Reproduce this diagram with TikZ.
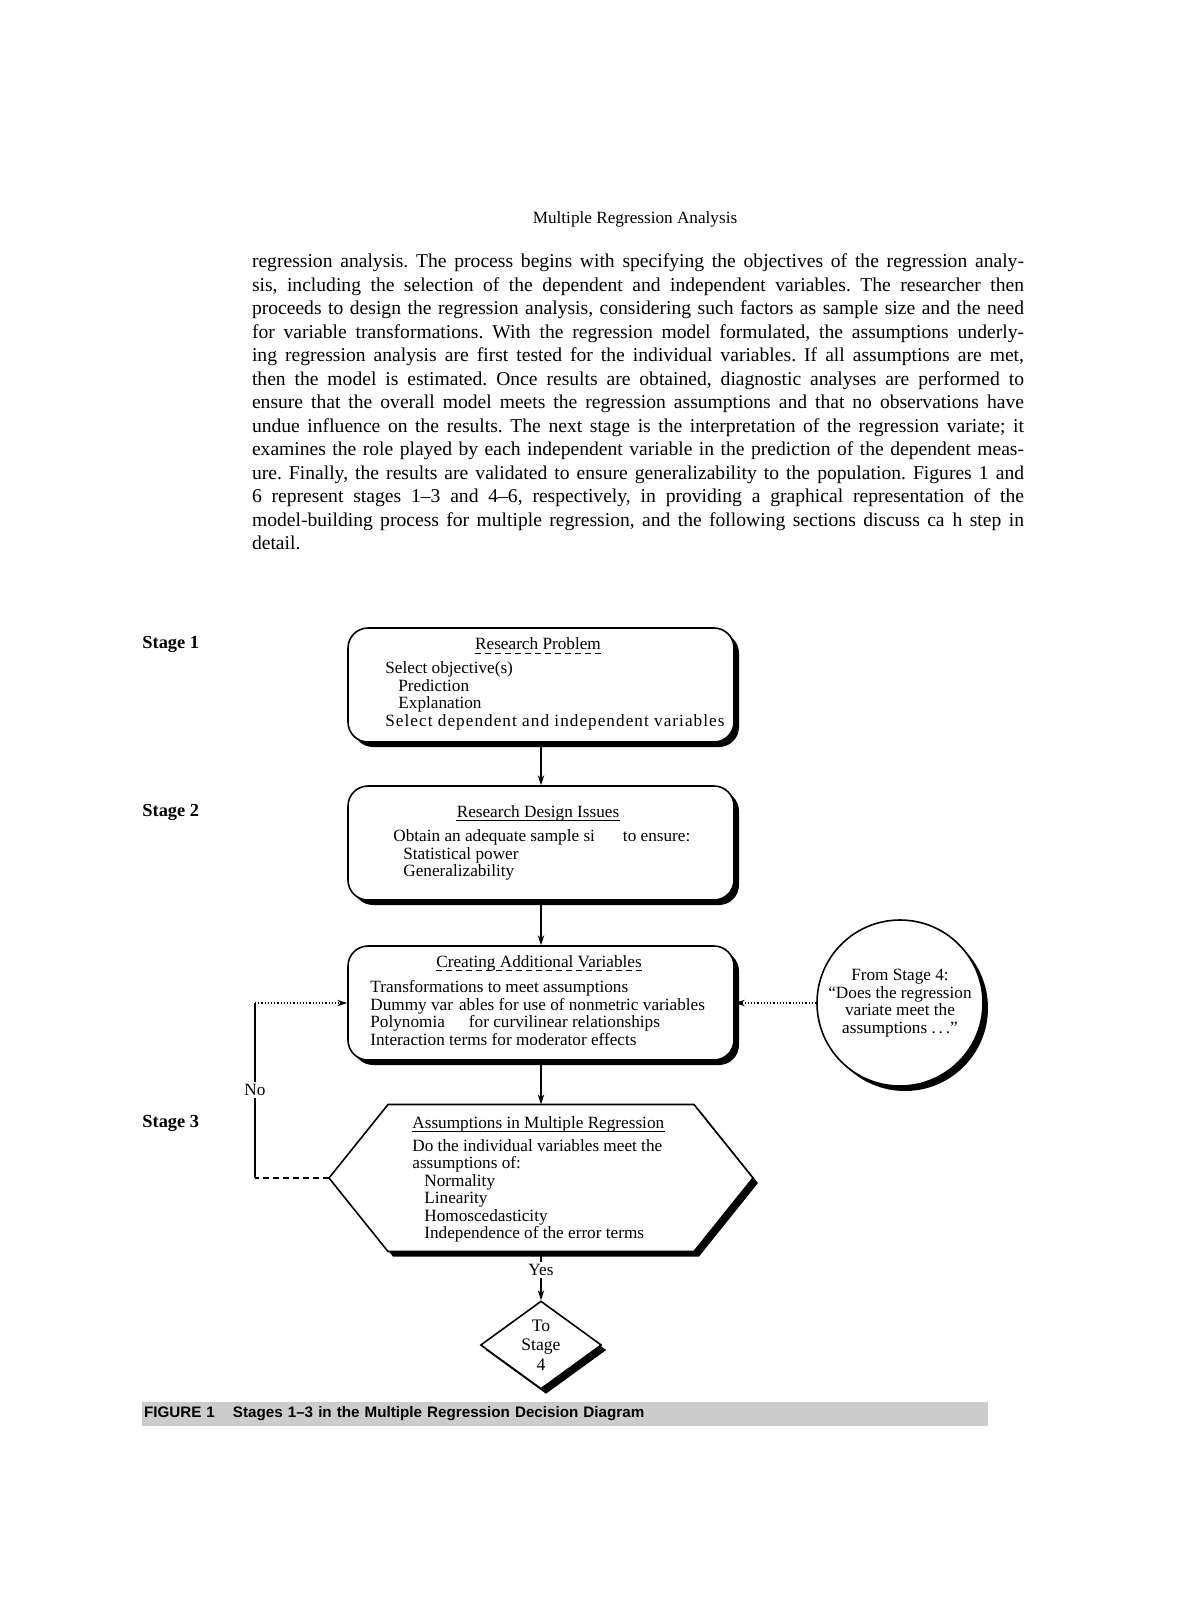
\documentclass[tikz,border=0pt]{standalone}
\usepackage{fontspec}
\setmainfont{Liberation Serif}
\setsansfont{Liberation Sans}
\usetikzlibrary{arrows.meta,shapes.geometric,shadows}

\tikzset{
  shade box/.style={drop shadow={shadow xshift=2.5pt,shadow yshift=-2.5pt,fill=black,opacity=1}},
  stagebox/.style={draw,thick,fill=white,rounded corners=10pt,minimum width=193pt,minimum height=57pt,shade box},
  hexframe/.style={minimum width=212pt,minimum height=73.5pt,inner sep=0pt,outer sep=0pt},
  boxfont/.style={font=\fontsize{8.6}{8.75}\selectfont},
  boxtext/.style={boxfont,align=left,inner sep=0pt,anchor=west},
  boxtitle/.style={boxfont,inner sep=0pt},
  stagelabel/.style={font=\bfseries\fontsize{9.2}{11}\selectfont,anchor=west,inner sep=0pt},
  para/.style={text width=386pt,align=justify,inner sep=0pt,font=\fontsize{9.8}{11.75}\selectfont\frenchspacing},
  capbar/.style={fill=black!20,minimum height=12pt,text width=421pt,inner xsep=1pt,inner ysep=0pt,
    align=left,font=\sffamily\bfseries\fontsize{7.6}{9}\selectfont},
  dashuline/.style={thin,densely dashed},
  uline/.style={thin},
  link/.style={semithick},
}

\begin{document}
\begin{tikzpicture}[x=0.5pt,y=-0.5pt,>={Stealth[length=5pt,width=3.2pt]}]
\useasboundingbox (0,0) rectangle (1200,1624);

% running head and text
\node[font=\fontsize{8.6}{10}\selectfont] (head) at (635,219) {Multiple Regression Analysis};
\node[para] (body) at (638,402) {regression analysis. The process begins with specifying the objectives of the regression analy-\linebreak
sis, including the selection of the dependent and independent variables. The researcher then\linebreak
proceeds to design the regression analysis, considering such factors as sample size and the need\linebreak
for variable transformations. With the regression model formulated, the assumptions underly-\linebreak
ing regression analysis are first tested for the individual variables. If all assumptions are met,\linebreak
then the model is estimated. Once results are obtained, diagnostic analyses are performed to\linebreak
ensure that the overall model meets the regression assumptions and that no observations have\linebreak
undue influence on the results. The next stage is the interpretation of the regression variate; it\linebreak
examines the role played by each independent variable in the prediction of the dependent meas-\linebreak
ure. Finally, the results are validated to ensure generalizability to the population. Figures 1 and\linebreak
6 represent stages 1--3 and 4--6, respectively, in providing a graphical representation of the\linebreak
model-building process for multiple regression, and the following sections discuss ca\hspace{4pt}h step in\linebreak
detail.};

% stage labels
\node[stagelabel] (stage1) at (142,644) {Stage 1};
\node[stagelabel] (stage2) at (142,812) {Stage 2};
\node[stagelabel] (stage3) at (142,1123) {Stage 3};

% Stage 1
\node[stagebox] (problem) at (541,685) {};
\node[boxtitle] (problem-title) at (538,644) {Research Problem};
\node[boxtext] (problem-text) at (385,696) {Select objective(s)\\\hspace*{6.5pt}Prediction\\\hspace*{6.5pt}Explanation\\{\addfontfeature{LetterSpace=6}Select dependent and independent variables}};

% Stage 2
\node[stagebox] (design) at (541,843) {};
\node[boxtitle] (design-title) at (538,813) {Research Design Issues};
\node[boxtext] (design-text) at (393,855) {Obtain an adequate sample si\hspace{14pt}to ensure:\\\hspace*{5pt}Statistical power\\\hspace*{5pt}Generalizability};

% additional variables
\node[stagebox] (variables) at (541,1003) {};
\node[boxtitle] (variables-title) at (539,963) {Creating Additional Variables};
\node[boxtext] (variables-text) at (370,1013) {Transformations to meet assumptions\\Dummy var\hspace{3pt}ables for use of nonmetric variables\\Polynomia\hspace{12pt}for curvilinear relationships\\Interaction terms for moderator effects};

\node[circle,draw,thick,fill=white,shade box,minimum size=83pt,inner sep=0pt,align=center,boxfont] (fromfour) at (900,1003)
  {From Stage 4:\\``Does the regression\\variate meet the\\assumptions .\,.\,.''};

% Stage 3
\node[hexframe] (assume) at (541,1178) {};
\filldraw[thick,fill=white,shade box] (assume.west) -- ([xshift=29.5pt]assume.north west) -- ([xshift=-29.5pt]assume.north east)
  -- (assume.east) -- ([xshift=-29.5pt]assume.south east) -- ([xshift=29.5pt]assume.south west) -- cycle;
\node[boxtitle,anchor=west] (assume-title) at (412,1124) {Assumptions in Multiple Regression};
\node[boxtext] (assume-text) at (412,1191) {Do the individual variables meet the\\assumptions of:\\\hspace*{6pt}Normality\\\hspace*{6pt}Linearity\\\hspace*{6pt}Homoscedasticity\\\hspace*{6pt}Independence of the error terms};

\node[diamond,draw,thick,fill=white,shade box,minimum width=60.5pt,minimum height=44pt,aspect=1.37,inner sep=0pt,
  align=center,font=\fontsize{8.8}{9.8}\selectfont] (gate) at (541,1345) {To\\Stage\\4};

\node[boxfont,fill=white,inner sep=1pt] (nolabel) at (255,1090) {No};
\node[boxfont,fill=white,inner sep=1pt] (yeslabel) at (541,1270) {Yes};

% title rules
\draw[dashuline] ([yshift=-1.8pt]problem-title.base west) -- ([yshift=-1.8pt]problem-title.base east);
\draw[uline] ([yshift=-1.8pt]design-title.base west) -- ([yshift=-1.8pt]design-title.base east);
\draw[dashuline] ([yshift=-1.8pt]variables-title.base west) -- ([yshift=-1.8pt]variables-title.base east);
\draw[uline] ([yshift=-1.8pt]assume-title.base west) -- ([yshift=-1.8pt]assume-title.base east);

% connectors
\draw[link,->] (problem) -- (design);
\draw[link,->] (design) -- (variables);
\draw[link,->] (variables) -- (assume);
\draw[link] (assume.south) -- (yeslabel.north);
\draw[link,->] (yeslabel.south) -- (gate.north);
\draw[link,densely dotted,->] (fromfour.west) -- (variables.east);
\draw[link,densely dashed] (assume.west) -- (assume.west -| nolabel.center);
\draw[link] (assume.west -| nolabel.center) -- (nolabel.south);
\draw[link] (nolabel.north) -- (nolabel.center |- variables.west);
\draw[link,densely dotted,->] (nolabel.center |- variables.west) -- (variables.west);

% caption
\node[capbar] (caption) at (565,1414) {FIGURE 1\hspace{9pt}Stages 1--3 in the Multiple Regression Decision Diagram};
\end{tikzpicture}
\end{document}
